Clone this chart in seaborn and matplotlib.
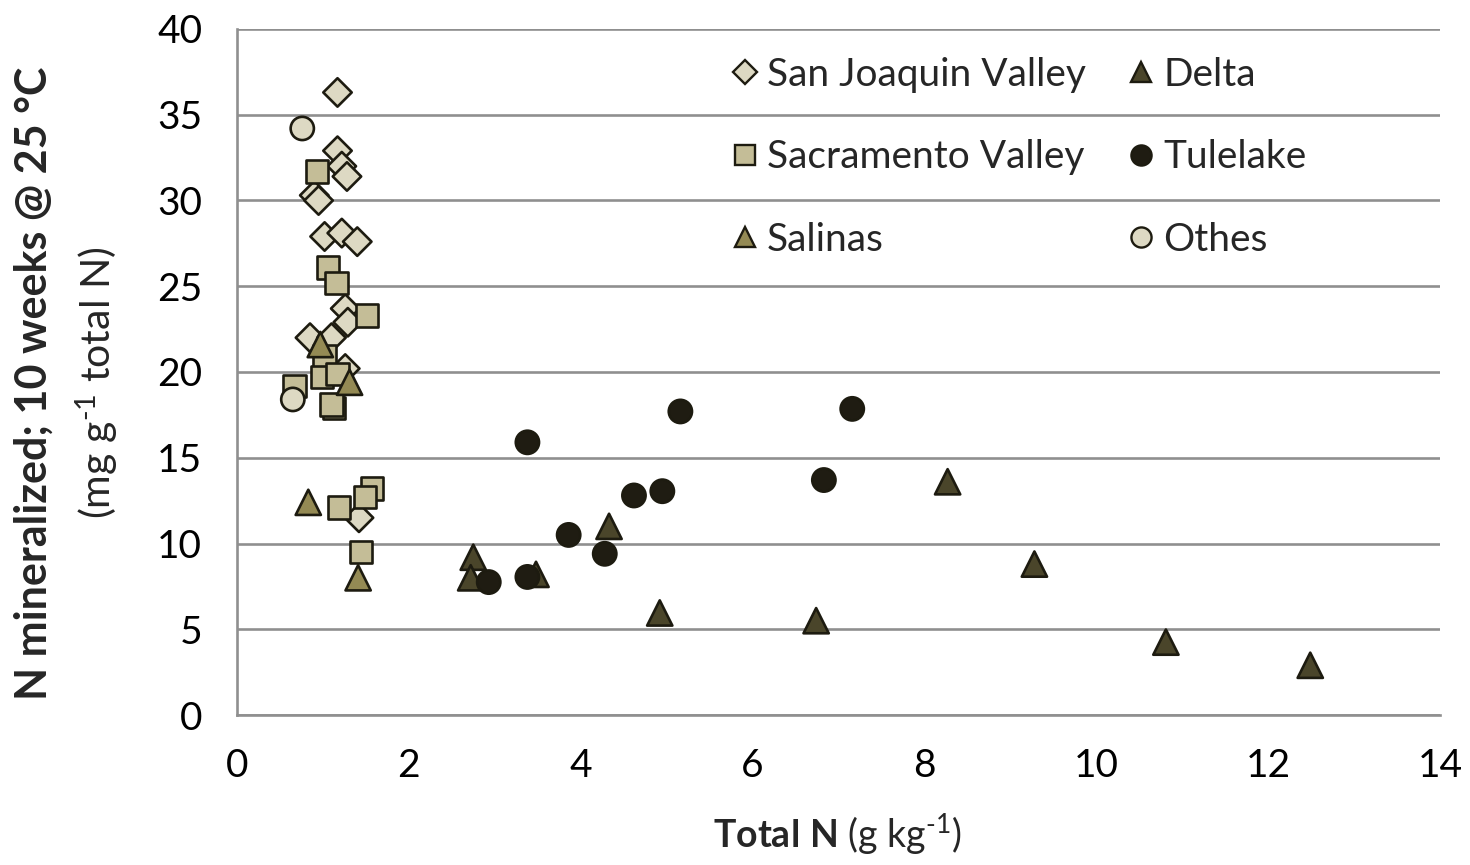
import numpy as np
import pandas as pd
import seaborn as sns
import matplotlib
matplotlib.use("Agg")
import matplotlib.pyplot as plt
from matplotlib.lines import Line2D

# Soil incubation data: total N (g/kg) vs. N mineralized (mg/g total N)
sjv_x = [1.17, 1.17, 1.22, 1.28, 0.90, 0.95, 1.02, 1.22, 1.40, 1.26, 1.29, 0.85, 1.10, 1.26, 1.42]
sjv_y = [36.3, 32.9, 32.0, 31.4, 30.3, 30.0, 27.9, 28.1, 27.6, 23.7, 22.9, 22.0, 22.0, 20.2, 11.5]

sac_x = [0.93, 1.06, 1.16, 1.51, 1.02, 0.99, 1.17, 0.67, 1.13, 1.10, 1.19, 1.57, 1.49, 1.44]
sac_y = [31.7, 26.1, 25.2, 23.3, 20.9, 19.7, 19.9, 19.2, 17.9, 18.1, 12.1, 13.2, 12.7, 9.5]

sal_x = [0.97, 1.31, 0.83, 1.41]
sal_y = [21.6, 19.4, 12.4, 8.0]

delta_x = [2.75, 2.72, 3.48, 4.33, 4.92, 6.74, 8.27, 9.28, 10.81, 12.49]
delta_y = [9.2, 8.0, 8.2, 11.0, 5.95, 5.5, 13.6, 8.8, 4.25, 2.9]

tule_x = [2.93, 3.38, 3.38, 3.86, 4.28, 4.62, 4.95, 5.16, 6.83, 7.16]
tule_y = [7.75, 8.05, 15.9, 10.5, 9.4, 12.8, 13.05, 17.7, 13.7, 17.85]

oth_x = [0.76, 0.65]
oth_y = [34.2, 18.4]

regions = ["San Joaquin Valley", "Sacramento Valley", "Salinas", "Delta", "Tulelake", "Othes"]
xs = [sjv_x, sac_x, sal_x, delta_x, tule_x, oth_x]
ys = [sjv_y, sac_y, sal_y, delta_y, tule_y, oth_y]

df = pd.concat(
    [pd.DataFrame({"total_n": x, "n_min": y, "region": r}) for r, x, y in zip(regions, xs, ys)],
    ignore_index=True,
)

palette = {
    "San Joaquin Valley": "#ddd9c3",
    "Sacramento Valley": "#c4bd97",
    "Salinas": "#948a54",
    "Delta": "#4a452a",
    "Tulelake": "#1f1c12",
    "Othes": "#ddd9c3",
}
markers = {
    "San Joaquin Valley": "D",
    "Sacramento Valley": "s",
    "Salinas": "^",
    "Delta": "^",
    "Tulelake": "o",
    "Othes": "o",
}
sizes = {
    "San Joaquin Valley": 210,
    "Sacramento Valley": 260,
    "Salinas": 330,
    "Delta": 330,
    "Tulelake": 280,
    "Othes": 280,
}
edge = "#1d1b10"

sns.set_theme(style="white")
plt.rcParams["font.family"] = ["Lato", "DejaVu Sans"]
plt.rcParams["mathtext.fontset"] = "custom"
plt.rcParams["mathtext.rm"] = "Lato"
plt.rcParams["mathtext.bf"] = "Lato:bold"
plt.rcParams["mathtext.it"] = "Lato:italic"

fig = plt.figure(figsize=(14.7, 8.65), dpi=100)
ax = fig.add_axes([0.1612, 0.1734, 0.8184, 0.7931])

sns.scatterplot(
    data=df, x="total_n", y="n_min",
    hue="region", style="region", size="region",
    palette=palette, markers=markers, sizes=sizes,
    edgecolor=edge, linewidth=1.9, alpha=1,
    legend=False, ax=ax, zorder=3,
)

grid_c = "#8f8f8f"
ax.set_xlim(0, 14)
ax.set_ylim(0, 40)
ax.set_xticks(np.arange(0, 15, 2))
ax.set_yticks(np.arange(0, 41, 5))
ax.yaxis.grid(True, color=grid_c, linewidth=1.9, zorder=0)
ax.xaxis.grid(False)
ax.set_axisbelow(True)
for side in ["top", "right"]:
    ax.spines[side].set_visible(False)
for side in ["left", "bottom"]:
    ax.spines[side].set_color(grid_c)
    ax.spines[side].set_linewidth(1.9)
ax.tick_params(axis="both", which="major", direction="out", length=9, width=1.9,
               color=grid_c, labelsize=28, labelcolor="black")
ax.tick_params(axis="y", pad=16)
ax.tick_params(axis="x", pad=15)
ax.set_xlabel("")
ax.set_ylabel("")

# axis titles: bold lead-in followed by regular-weight units
fig.text(0.570, 0.036, r"$\mathbf{Total\ N}$ (g kg$^{\mathrm{\text{-}1}}$)", ha="center",
         va="center", fontsize=27)
fig.text(0.023, 0.557, "N mineralized; 10 weeks @ 25 °C", rotation=90, ha="center", va="center",
         fontsize=31, fontweight="bold")
fig.text(0.066, 0.557, r"(mg g$^{\text{-}1}$ total N)", rotation=90, ha="center", va="center",
         fontsize=29.5)

handles = [
    Line2D([], [], linestyle="none", marker=markers[r], markersize=(12.5 if markers[r] == "D" else 14.5),
           markerfacecolor=palette[r], markeredgecolor=edge, markeredgewidth=1.7)
    for r in regions
]
ax.legend(handles, regions, ncol=2, frameon=False, loc="upper left",
          bbox_to_anchor=(0.3915, 0.988), fontsize=28, labelspacing=1.2,
          columnspacing=0.97, handletextpad=0.12, handlelength=0.9, borderpad=0)

fig.savefig("out.png", dpi=100)
